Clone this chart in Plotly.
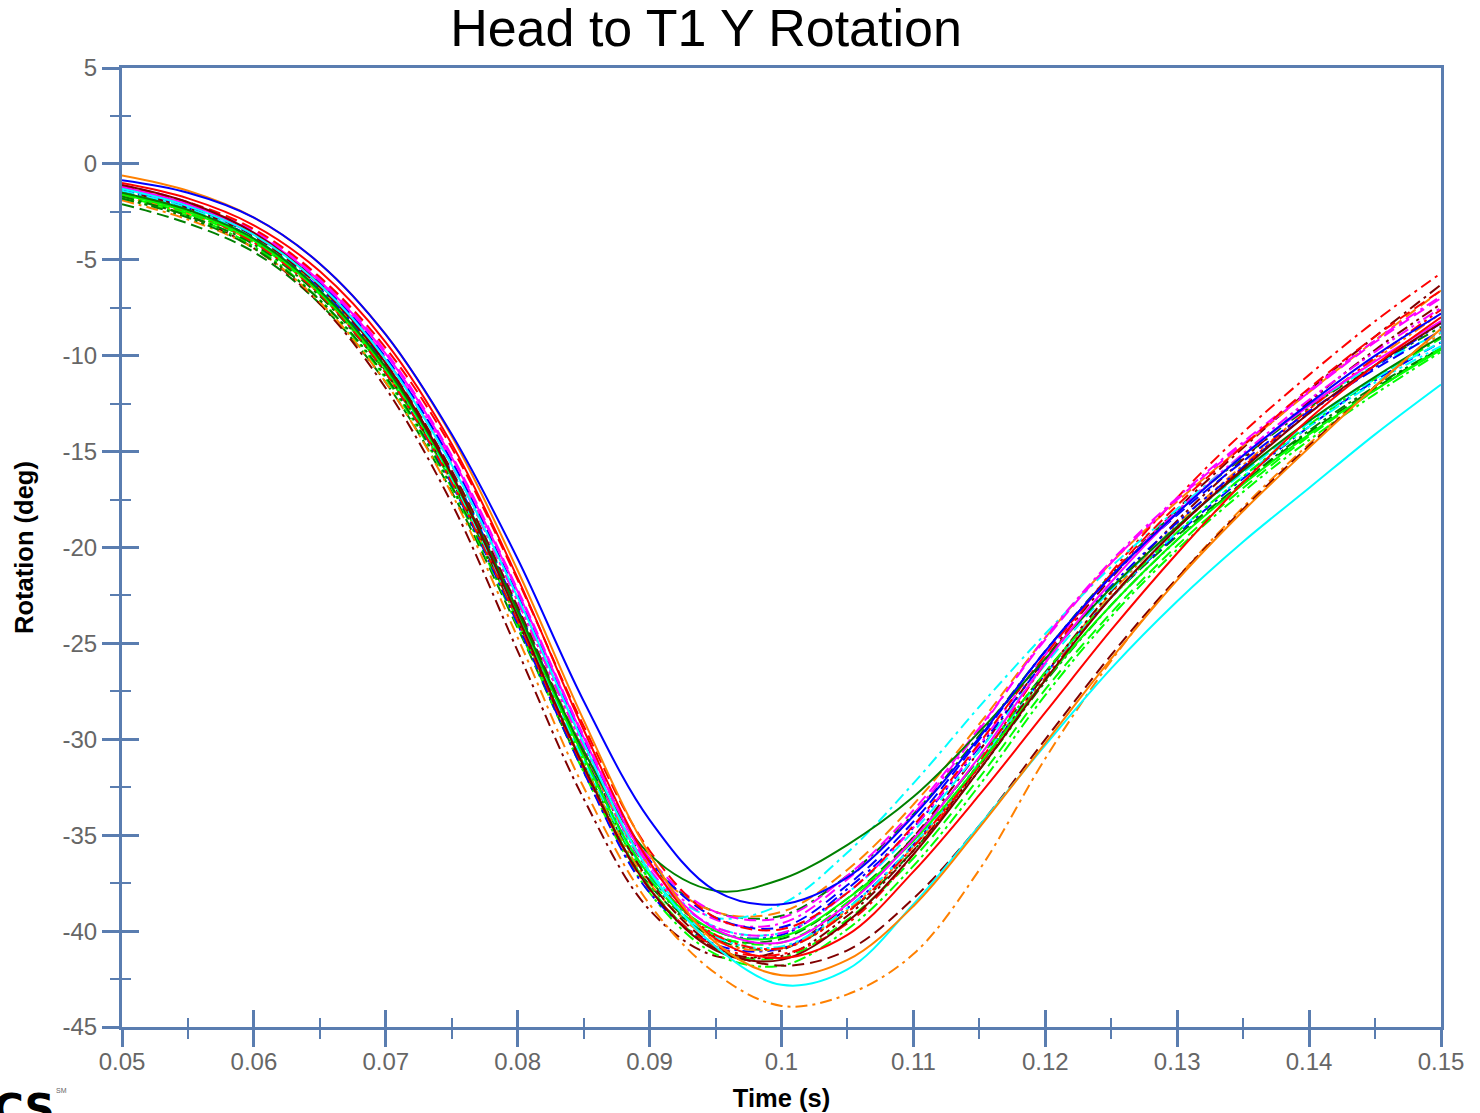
import plotly.graph_objects as go

# ---------------- data ----------------
time_s = [0.05, 0.055, 0.06, 0.065, 0.07, 0.075, 0.08, 0.085, 0.09, 0.095, 0.1,
          0.105, 0.11, 0.115, 0.12, 0.125, 0.13, 0.135, 0.14, 0.145, 0.15]

blue_solid = [-0.85, -1.5, -2.8, -5.2, -8.9, -14.1, -20.6, -28.0, -34.2, -37.9, -38.6, -37.2, -34.0, -29.9, -25.4, -21.5, -18.2, -15.2, -12.5, -10.0, -7.8]
blue_dash = [-1.3, -2.2, -3.7, -6.2, -10.1, -15.5, -22.5, -30.0, -36.3, -39.3, -39.8, -37.6, -34.3, -30.0, -25.4, -21.5, -18.3, -15.5, -12.9, -10.7, -8.7]
blue_dashdot = [-1.5, -2.5, -4.0, -6.8, -10.9, -16.7, -24.0, -31.7, -38.0, -40.7, -40.9, -38.8, -35.5, -31.3, -26.6, -22.6, -19.3, -16.4, -13.7, -11.3, -9.3]
blue_dashdotdot = [-1.4, -2.3, -3.9, -6.5, -10.5, -16.1, -23.2, -30.8, -37.1, -40.0, -40.2, -37.8, -34.6, -30.4, -25.9, -22.0, -18.7, -15.8, -13.0, -10.6, -8.3]

red_solid = [-1.0, -1.8, -3.2, -5.6, -9.3, -14.6, -21.6, -29.5, -36.4, -40.4, -41.4, -40.2, -36.9, -32.9, -28.6, -24.3, -20.3, -16.6, -13.3, -10.5, -8.0]
red_dash = [-1.2, -2.0, -3.4, -5.9, -9.6, -14.8, -21.7, -29.3, -35.8, -39.3, -39.9, -38.0, -34.5, -30.2, -25.6, -21.4, -17.8, -14.7, -11.7, -9.0, -6.6]
red_dashdot = [-1.6, -2.5, -4.1, -6.8, -10.9, -16.6, -23.8, -31.5, -37.8, -40.8, -41.2, -39.6, -36.0, -31.2, -26.0, -21.3, -17.4, -14.0, -11.0, -8.2, -5.7]
red_dashdotdot = [-1.3, -2.2, -3.7, -6.3, -10.2, -15.7, -22.8, -30.4, -36.9, -40.2, -40.9, -39.0, -35.6, -31.4, -26.8, -22.6, -19.0, -15.8, -12.8, -10.1, -7.6]

green_solid = [-1.5, -2.4, -3.9, -6.6, -10.6, -16.2, -23.3, -30.6, -36.0, -37.9, -37.3, -35.5, -33.0, -29.6, -25.8, -22.1, -18.9, -16.0, -13.4, -11.1, -9.0]
green_dash = [-2.1, -3.1, -4.6, -7.3, -11.4, -17.1, -24.2, -31.6, -37.6, -40.3, -40.4, -38.3, -35.1, -31.0, -26.5, -22.6, -19.4, -16.6, -14.0, -11.7, -9.6]
green_dashdot = [-1.7, -2.7, -4.2, -6.9, -10.9, -16.5, -23.5, -30.8, -36.5, -39.0, -39.2, -37.1, -33.9, -29.8, -25.4, -21.4, -18.1, -15.3, -12.7, -10.5, -8.5]
green_dashdotdot = [-1.8, -2.8, -4.4, -7.1, -11.1, -16.8, -23.9, -31.3, -37.3, -40.4, -40.9, -39.0, -35.8, -31.6, -27.0, -23.0, -19.6, -16.6, -13.9, -11.6, -9.6]

lime_solid = [-1.6, -2.5, -4.0, -6.7, -10.7, -16.3, -23.4, -30.9, -37.1, -40.0, -40.3, -38.3, -35.3, -31.3, -26.9, -23.0, -19.6, -16.7, -14.1, -11.8, -9.7]
lime_dash = [-1.7, -2.6, -4.1, -6.8, -10.9, -16.6, -23.8, -31.4, -37.7, -40.9, -41.4, -39.4, -36.2, -32.0, -27.4, -23.4, -19.9, -16.9, -14.2, -11.8, -9.6]
lime_dashdot = [-1.6, -2.5, -4.0, -6.7, -10.8, -16.4, -23.6, -31.1, -37.3, -40.2, -40.6, -38.5, -35.2, -31.0, -26.5, -22.6, -19.2, -16.3, -13.6, -11.2, -9.1]
lime_dashdotdot = [-1.8, -2.7, -4.3, -7.1, -11.2, -16.9, -24.1, -31.7, -38.0, -41.2, -41.8, -39.9, -36.6, -32.4, -27.7, -23.6, -20.1, -17.1, -14.4, -12.0, -9.8]

cyan_solid = [-1.3, -2.2, -3.7, -6.3, -10.2, -15.7, -22.6, -30.2, -36.9, -40.8, -42.8, -42.0, -38.6, -34.5, -30.3, -26.3, -22.8, -19.7, -16.9, -14.1, -11.5]
cyan_dash = [-1.5, -2.4, -3.9, -6.5, -10.5, -16.0, -23.1, -30.6, -36.9, -39.8, -40.1, -38.0, -34.8, -30.6, -26.1, -22.2, -18.9, -16.1, -13.5, -11.2, -9.3]
cyan_dashdot = [-1.4, -2.3, -3.9, -6.6, -10.7, -16.4, -23.6, -31.1, -37.0, -39.3, -38.6, -35.9, -32.3, -28.3, -24.5, -21.0, -18.0, -15.2, -12.6, -10.5, -8.8]
cyan_dashdotdot = [-1.5, -2.4, -3.9, -6.6, -10.6, -16.2, -23.3, -30.9, -37.2, -40.3, -40.8, -38.8, -35.5, -31.2, -26.6, -22.6, -19.2, -16.3, -13.7, -11.4, -9.5]

magenta_solid = [-1.2, -2.1, -3.6, -6.1, -9.9, -15.3, -22.3, -29.9, -36.5, -39.9, -40.6, -38.6, -35.2, -30.9, -26.0, -21.8, -18.2, -15.2, -12.6, -10.3, -8.2]
magenta_dash = [-1.1, -2.0, -3.5, -6.0, -9.8, -15.2, -22.2, -29.8, -36.2, -39.0, -39.3, -37.1, -33.7, -29.4, -24.8, -20.8, -17.5, -14.6, -11.9, -9.3, -7.0]
magenta_dashdot = [-1.3, -2.2, -3.7, -6.2, -10.1, -15.5, -22.6, -30.2, -36.6, -39.4, -39.6, -37.3, -33.9, -29.5, -24.7, -20.7, -17.4, -14.5, -11.8, -9.2, -6.9]
magenta_dashdotdot = [-1.3, -2.2, -3.7, -6.3, -10.2, -15.7, -22.8, -30.4, -36.8, -39.8, -40.1, -38.0, -34.6, -30.3, -25.6, -21.5, -18.1, -15.1, -12.3, -9.8, -7.5]

orange_solid = [-0.6, -1.4, -2.8, -5.2, -8.9, -14.2, -21.2, -29.0, -36.0, -40.6, -42.3, -41.5, -38.7, -34.6, -30.2, -25.8, -21.7, -18.1, -14.8, -11.6, -8.6]
orange_dash = [-1.5, -2.4, -3.9, -6.5, -10.5, -16.1, -23.2, -30.6, -36.6, -39.0, -39.0, -36.8, -33.4, -29.2, -24.7, -20.8, -17.6, -14.7, -11.9, -9.2, -6.6]
orange_dashdot = [-1.9, -2.9, -4.4, -7.2, -11.4, -17.2, -24.7, -32.5, -38.6, -42.2, -43.9, -43.3, -41.2, -36.8, -31.0, -25.9, -21.6, -17.9, -14.6, -11.6, -8.8]
orange_dashdotdot = [-1.7, -2.6, -4.1, -6.8, -10.9, -16.6, -23.8, -31.3, -37.5, -40.5, -40.9, -38.9, -35.6, -31.3, -26.6, -22.4, -18.8, -15.7, -12.8, -10.2, -7.8]

maroon_solid = [-1.1, -2.0, -3.6, -6.3, -10.4, -16.2, -23.6, -31.4, -37.8, -41.0, -41.5, -39.5, -36.0, -31.6, -26.9, -22.6, -19.0, -15.9, -13.0, -10.5, -8.3]
maroon_dash = [-1.4, -2.3, -3.8, -6.4, -10.4, -16.0, -23.1, -30.8, -37.4, -40.8, -41.8, -41.0, -38.3, -34.5, -30.0, -25.6, -21.6, -18.0, -14.7, -11.6, -8.6]
maroon_dashdot = [-1.7, -2.7, -4.4, -7.3, -11.7, -17.7, -25.4, -33.1, -38.9, -41.3, -41.0, -38.6, -35.1, -30.6, -25.8, -21.6, -18.0, -14.8, -11.8, -9.0, -6.3]
maroon_dashdotdot = [-1.5, -2.4, -4.0, -6.7, -10.8, -16.5, -23.8, -31.5, -37.8, -40.9, -41.3, -39.2, -35.8, -31.4, -26.6, -22.3, -18.6, -15.4, -12.4, -9.7, -7.3]

y_tick_vals = [5, 0, -5, -10, -15, -20, -25, -30, -35, -40, -45]
y_tick_text = ["5", "0", "-5", "-10", "-15", "-20", "-25", "-30", "-35", "-40", "-45"]

# ---------------- styling ----------------
COLORS = {"blue": "#0000FF", "red": "#FF0000", "green": "#008000", "lime": "#00FF00",
          "cyan": "#00FFFF", "magenta": "#FF00FF", "orange": "#FF8000", "maroon": "#800000"}
DASHES = {"solid": "solid", "dash": "12px,6px", "dashdot": "12px,5px,3px,5px",
          "dashdotdot": "12px,4px,3px,4px,3px,4px"}

series = [
    ("green", "dash", green_dash), ("maroon", "dashdot", maroon_dashdot),
    ("orange", "dashdot", orange_dashdot), ("lime", "dashdotdot", lime_dashdotdot),
    ("green", "dashdotdot", green_dashdotdot), ("blue", "dashdot", blue_dashdot),
    ("orange", "dashdotdot", orange_dashdotdot), ("lime", "dash", lime_dash),
    ("cyan", "dashdotdot", cyan_dashdotdot), ("green", "dashdot", green_dashdot),
    ("maroon", "dashdotdot", maroon_dashdotdot), ("lime", "dashdot", lime_dashdot),
    ("cyan", "dash", cyan_dash), ("orange", "dash", orange_dash),
    ("red", "dashdotdot", red_dashdotdot), ("blue", "dashdotdot", blue_dashdotdot),
    ("magenta", "dashdotdot", magenta_dashdotdot), ("maroon", "dash", maroon_dash),
    ("red", "dashdot", red_dashdot), ("cyan", "dashdot", cyan_dashdot),
    ("magenta", "dashdot", magenta_dashdot), ("blue", "dash", blue_dash),
    ("magenta", "dash", magenta_dash), ("red", "dash", red_dash),
    ("lime", "solid", lime_solid), ("green", "solid", green_solid),
    ("magenta", "solid", magenta_solid), ("maroon", "solid", maroon_solid),
    ("red", "solid", red_solid), ("cyan", "solid", cyan_solid),
    ("orange", "solid", orange_solid), ("blue", "solid", blue_solid),
]

fig = go.Figure()
for color, dash, vals in series:
    fig.add_trace(go.Scatter(
        x=time_s, y=vals, mode="lines", name=f"{color} {dash}",
        line=dict(color=COLORS[color], width=2, dash=DASHES[dash], shape="spline", smoothing=1.0),
        showlegend=False, hoverinfo="x+y"))

# dummy trace so the overlay axes (inside ticks) are drawn
fig.add_trace(go.Scatter(x=[None], y=[None], xaxis="x2", yaxis="y2",
                         showlegend=False, hoverinfo="skip"))

AX = "#5A7DB0"
FONT = "Liberation Sans, Arial, sans-serif"
XR = [0.05, 0.15]
YR = [-45, 5]

fig.update_layout(
    width=1480, height=1113,
    margin=dict(l=122, r=39, t=68, b=86, autoexpand=False),
    paper_bgcolor="white", plot_bgcolor="white",
    font=dict(family=FONT),
    title=dict(text="Head to T1 Y Rotation", x=706 / 1480, xanchor="center",
               y=1 - 28 / 1113, yanchor="middle", yref="container",
               font=dict(size=52, color="black", family=FONT)),
    xaxis=dict(range=XR, showgrid=False, zeroline=False, showline=True, linecolor=AX,
               linewidth=3, mirror=True, ticks="outside", ticklen=17, tickwidth=2.5,
               tickcolor=AX, tick0=0.05, dtick=0.01, automargin=False, ticklabelstandoff=-6,
               minor=dict(ticks="outside", ticklen=9, tickwidth=2, tickcolor=AX, dtick=0.005, tick0=0.05),
               tickfont=dict(size=24, color="#666666", family=FONT),
               title=dict(text="<b>Time (s)</b>", font=dict(size=25.5, color="black", family=FONT),
                          standoff=16)),
    yaxis=dict(range=YR, showgrid=False, zeroline=False, showline=True, linecolor=AX,
               linewidth=3, mirror=True, ticks="outside", ticklen=17, tickwidth=2.5,
               tickcolor=AX, tickmode="array", tickvals=y_tick_vals, ticktext=y_tick_text,
               automargin=False,
               minor=dict(ticks="outside", ticklen=9, tickwidth=2, tickcolor=AX,
                          tickmode="linear", dtick=2.5, tick0=0),
               tickfont=dict(size=24, color="#666666", family=FONT),
               title=dict(text="<b>Rotation (deg)</b>", font=dict(size=25.5, color="black", family=FONT),
                          standoff=22)),
    xaxis2=dict(range=XR, overlaying="x", anchor="y2", side="bottom", showgrid=False,
                zeroline=False, showline=False, showticklabels=False, ticks="inside",
                ticklen=17, tickwidth=2.5, tickcolor=AX, tick0=0.05, dtick=0.01, automargin=False,
                minor=dict(ticks="inside", ticklen=9, tickwidth=2, tickcolor=AX, dtick=0.005, tick0=0.05)),
    yaxis2=dict(range=YR, overlaying="y", anchor="x2", side="left", showgrid=False,
                zeroline=False, showline=False, showticklabels=False, ticks="inside",
                ticklen=17, tickwidth=2.5, tickcolor=AX, tick0=0, dtick=5, automargin=False,
                minor=dict(ticks="inside", ticklen=9, tickwidth=2, tickcolor=AX, dtick=2.5, tick0=0)),
)

# partial logo at the bottom-left corner (cut by the page edge, as in the reference)
fig.add_annotation(text="<b>CS</b>", xref="paper", yref="paper", x=(24 - 122) / 1319, y=-(1083 - 1027) / 959,
                   xanchor="center", yanchor="top", showarrow=False,
                   font=dict(size=42, color="black", family="DejaVu Sans"))
fig.add_annotation(text="SM", xref="paper", yref="paper", x=(61 - 122) / 1319, y=-(1085 - 1027) / 959,
                   xanchor="center", yanchor="top", showarrow=False,
                   font=dict(size=7, color="#666666", family=FONT))

fig.write_html("out.html")
